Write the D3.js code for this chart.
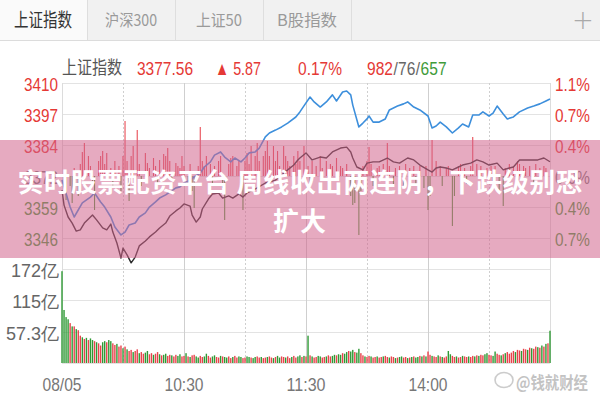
<!DOCTYPE html>
<html><head><meta charset="utf-8">
<script src="https://cdn.jsdelivr.net/npm/d3@7"></script>
<style>
html,body{margin:0;padding:0;background:#fff;}
svg{display:block;}
.num{font-family:"Liberation Sans Narrow","Liberation Sans",Arial,sans-serif;}
.cjk{font-family:"Noto Sans CJK SC","Noto Sans",sans-serif;}
</style></head><body>
<svg id="c" width="600" height="400"></svg>
<script>
// ---------- data ----------
const tabs = ["上证指数","沪深300","上证50","B股指数"];
const indexName = "上证指数";
const lastPrice = "3377.56", changeText = "▲ 5.87", changePct = "0.17%";
const advDeclParts = ["982","/","76","/","657"];
const preClose = 3371.69;
const priceStep = 12.77;
const priceTickLabels = ["3410","3397","3384","3372","3359","3346"];
const pctTickLabels = ["1.1%","0.7%","0.4%","0.0%","0.4%","0.7%"];
const volTickValues = [172, 115, 57.3];
const volTickLabels = ["172亿","115亿","57.3亿"];
const timeTickMinutes = [0, 60, 120, 180];
const timeTickLabels = ["08/05","10:30","11:30","14:00"];
const bannerLines = ["实时股票配资平台 周线收出两连阴，下跌级别恐","扩大"];
const watermark = "@钱就财经";

// weighted index (dark line)
const priceMinutes = [0,1,3,5,7,9,11,13,15,17,20,22,24,25,27,29,30,32,34,36,38,41,43,46,48,51,53,56,58,60,63,64,66,68,69,72,74,77,79,82,84,87,89,91,94,96,100,102,105,108,111,114,116,117,120,123,127,130,133,137,140,142,143,145,148,150,153,156,160,163,166,170,173,176,180,182,184,186,189,192,195,197,201,204,207,210,214,217,220,222,225,230,234,237,240];
const priceValues = [3365.9,3359.7,3354.8,3352.3,3349.0,3349.5,3352.3,3354.0,3355.6,3353.6,
3350.3,3349.5,3351.9,3348.6,3344.1,3337.9,3342.0,3339.2,3335.9,3338.3,
3342.9,3344.9,3346.6,3348.6,3350.3,3352.3,3355.2,3357.3,3358.5,3360.2,
3359.3,3355.6,3352.7,3354.8,3358.1,3362.2,3364.3,3364.7,3362.6,3363.5,
3362.6,3364.3,3363.0,3364.7,3365.9,3366.8,3368.8,3369.2,3370.0,3372.1,
3374.2,3376.2,3378.3,3379.1,3381.2,3378.3,3379.5,3379.1,3381.6,3383.2,
3383.6,3381.6,3379.1,3375.4,3374.2,3377.0,3377.5,3377.5,3379.1,3377.5,
3377.0,3379.1,3378.3,3376.2,3374.2,3373.3,3375.0,3375.4,3375.0,3374.2,
3375.4,3376.2,3377.0,3378.3,3377.5,3376.2,3377.0,3374.2,3375.0,3375.4,
3378.3,3378.3,3378.3,3379.1,3377.56];

// unweighted index (blue line), in index points on the same scale
const blueMinutes = [0,4,6,10,14,16,19,21,24,26,29,31,33,36,38,41,43,46,48,51,53,56,58,60,63,65,68,70,73,75,78,80,83,85,88,90,92,95,97,100,102,105,108,111,115,117,120,122,124,127,130,133,135,138,140,142,143,146,148,150,151,153,156,159,161,165,168,170,173,176,180,182,184,186,189,192,195,197,200,202,205,207,210,212,214,217,219,222,225,229,232,235,238,240];
const blueValues = [3370.0,3358.9,3354.8,3360.6,3363.0,3364.7,3361.0,3358.9,3354.8,3350.7,
3347.4,3348.6,3351.5,3352.3,3354.8,3356.5,3358.9,3361.0,3362.6,3363.9,
3365.1,3366.8,3367.2,3368.8,3370.0,3371.3,3372.9,3375.4,3377.5,3380.3,
3381.6,3379.5,3377.5,3379.1,3377.5,3379.1,3381.2,3381.6,3383.2,3387.8,
3389.4,3390.6,3391.9,3393.5,3396.0,3398.1,3401.8,3404.2,3402.2,3400.1,
3402.2,3405.1,3402.6,3406.3,3406.7,3405.1,3400.9,3391.9,3393.5,3395.2,
3396.4,3393.9,3393.9,3395.2,3398.9,3400.5,3401.4,3402.2,3400.1,3398.9,
3396.4,3391.5,3392.3,3393.9,3391.9,3389.4,3391.5,3393.1,3391.9,3396.8,
3396.8,3398.1,3396.4,3397.6,3400.5,3397.2,3395.2,3396.0,3398.1,3399.7,
3400.5,3401.4,3402.6,3403.4];

// buy/sell strength bars (arbitrary units, + red up, - green down)
const breadthMinutes = [1,2,4,5,6,8,9,10,11,13,14,15,16,18,19,20,21,22,24,25,26,28,29,30,31,32,33,34,35,37,38,39,41,42,43,45,46,47,48,50,51,52,53,54,56,57,58,59,60,62,63,64,65,67,68,69,70,71,73,74,75,77,78,79,80,82,83,84,86,87,88,89,90,91,92,93,95,96,97,99,100,101,102,104,105,106,107,109,110,111,112,114,115,116,117,119,
121,122,123,125,127,128,130,132,133,135,137,138,140,142,143,144,146,147,148,150,151,152,153,155,156,158,160,161,163,164,166,168,169,171,173,174,176,178,179,180,181,182,184,186,187,189,190,192,193,195,196,198,199,201,202,204,206,207,209,211,212,213,215,217,218,220,222,224,225,227,228,230,232,233,235,237,238];
const breadthValues = [-10,-24,-10,-27,8,-20,12,24,33,20,10,-8,-34,15,20,25,12,23,8,-10,15,10,-15,20,55,15,-25,20,30,46,12,-10,23,13,8,18,10,-8,16,22,20,28,15,-5,13,10,8,20,10,-8,12,-15,-32,10,49,15,10,20,12,-8,10,15,20,-12,-44,12,18,20,10,15,-10,-34,15,23,12,30,20,33,15,20,25,35,20,30,15,25,10,30,20,15,10,20,12,25,15,30,
10,-10,15,10,20,8,15,12,10,18,10,8,12,-20,-29,-27,-59,-15,10,15,29,12,-10,8,10,12,33,10,-8,8,10,-10,12,8,10,-8,10,-12,10,-34,-20,36,15,10,-10,8,10,-50,-20,10,12,8,-8,10,39,12,10,-10,8,10,-8,10,-15,-30,8,12,10,15,12,10,8,10,-8,12,8,10,8];

// volume per minute (亿), and direction r=up g=down
const volumes = [168,97,84,80,73,67,67,62,60,50,47,44,46,42,45,42,40,38,36,32,
38,40,38,42,40,36,33,35,30,32,27,30,25,22,24,20,22,25,18,20,
17,19,22,16,18,15,17,20,16,14,15,17,13,15,14,12,15,13,16,12,
13,18,12,11,14,15,12,10,13,11,12,17,13,10,12,14,11,10,13,12,
11,10,12,9,11,13,10,12,11,9,10,12,11,10,9,11,12,10,11,9,
10,11,12,10,9,11,13,10,12,11,10,12,9,11,13,10,12,14,11,13,12,
50,14,12,10,11,13,12,10,11,12,14,12,13,15,14,16,15,18,17,20,
22,21,24,20,19,26,18,14,12,11,13,12,10,11,12,10,11,12,13,11,
10,12,11,9,10,11,12,10,11,9,10,11,12,10,11,13,12,14,12,21,
15,13,12,11,14,12,11,10,12,22,16,13,11,12,10,11,13,12,11,12,
11,13,12,14,13,15,14,16,18,15,14,13,21,17,15,14,16,18,20,17,
19,22,20,24,23,22,26,25,24,28,27,26,30,29,28,32,30,35,36,59];
const volumeDirs = ("ggggrgrgrrgrgrggrgrr"+"ggrggrrgrrgrgrrgrrgr"+"rggrrgrrgrggrrgrrggr"+"rgrgrrggrrggrrggrrgr"+"ggrrgrrggrrggrggrrgr"+
"rgrrgrggrrgrrgrrggrgr"+"grgrrggrrgrrggrggrgg"+"rggrggrrgrrgrrgrrgrr"+"grrgrggrrgrgrggrgrgr"+"rgrrgrgrrggrrgrrgrrg"+"rrgrgrrggrrggrrgrgrr"+"rrgrrgrrgrgrrgrgrgrg").split("");

// ---------- drawing ----------
const RED = "#e53935", GREEN = "#3f9b3a", GRAY = "#777";
const svg = d3.select("#c");
const L = 62, R = 550, PT = 83, PB = 269, VT = 269, VB = 363;

const x = d3.scaleLinear().domain([0, 240]).range([L, R]);
const y = d3.scaleLinear().domain([preClose - 3*priceStep, preClose + 3*priceStep]).range([PB, PT]);
const yb = d3.scaleLinear().domain([-93, 93]).range([PB, PT]);
const yv = d3.scaleLinear().domain([0, 172]).range([VB, VT]);

// tab bar
const tabW = 88;
svg.append("rect").attr("x",0).attr("y",0).attr("width",600).attr("height",40).attr("fill","#f1f1f1");
svg.append("rect").attr("x",0).attr("y",0).attr("width",tabW-1).attr("height",40).attr("fill","#fafafa");
svg.append("line").attr("x1",0).attr("x2",600).attr("y1",40.5).attr("y2",40.5).attr("stroke","#dcdcdc");
tabs.forEach((t,i)=>{
  svg.append("line").attr("x1",tabW*(i+1)-0.5).attr("x2",tabW*(i+1)-0.5).attr("y1",0).attr("y2",40).attr("stroke","#dedede");
  svg.append("text").attr("class","cjk").attr("x",tabW*i+tabW/2-1).attr("y",20).attr("dy","0.35em")
    .attr("text-anchor","middle").attr("font-size", i===0?19:16).attr("fill", i===0?"#333":"#9a9a9a")
    .attr("textLength", [58,52,46,60][i]).attr("lengthAdjust","spacingAndGlyphs").text(t);
});
svg.append("text").attr("x",583).attr("y",20).attr("dy","0.35em").attr("text-anchor","middle")
  .attr("font-size",26).attr("font-weight",300).attr("fill","#aaa").attr("font-family","DejaVu Sans").text("+");

// header row
const HY = 68;
function headText(str, x0, w, col, cls, fs){
  svg.append("text").attr("class",cls||"num").attr("x",x0).attr("y",HY).attr("dy","0.35em").attr("font-size",fs||19)
    .attr("fill",col).attr("textLength",w).attr("lengthAdjust","spacingAndGlyphs").text(str);
}
headText(indexName, 62, 60, "#555", "cjk", 18);
headText(lastPrice, 137, 56, RED);
headText(changeText, 215, 46, RED);
headText(changePct, 298, 44, RED);
// advancers / unchanged / decliners: placed one after another, horizontally condensed group
const adColors = [RED,"#666","#666","#666",GREEN];
const adG = svg.append("g");
let adCursor = 0;
advDeclParts.forEach((p,i)=>{
  const t = adG.append("text").attr("class","num").attr("x",adCursor).attr("y",0).attr("dy","0.35em")
    .attr("font-size",19).attr("fill",adColors[i]).text(p);
  adCursor += t.node().getComputedTextLength() + 0.5;
});
adG.attr("transform", `translate(367,${HY}) scale(${80/adCursor},1)`);

// grid: price panel
const levels = d3.range(6, -1, -1).map(k => preClose + (k-3)*priceStep);
svg.append("g").selectAll("line").data(levels).join("line")
  .attr("x1",L).attr("x2",R).attr("y1",d=>Math.round(y(d))+0.5).attr("y2",d=>Math.round(y(d))+0.5)
  .attr("stroke","#e3e3e3");
// grid: volume panel
svg.append("g").selectAll("line").data([0].concat(volTickValues)).join("line")
  .attr("x1",L).attr("x2",R).attr("y1",d=>Math.round(yv(d))+0.5).attr("y2",d=>Math.round(yv(d))+0.5)
  .attr("stroke","#e3e3e3");
// verticals
const vMins = d3.range(0, 241, 30);
svg.append("g").selectAll("line").data(vMins).join("line")
  .attr("x1",d=>Math.round(x(d))+0.5).attr("x2",d=>Math.round(x(d))+0.5)
  .attr("y1",PT).attr("y2",VB)
  .attr("stroke", d => (d===0||d===240) ? "#dcdcdc" : "#cfcfcf")
  .attr("stroke-dasharray", d => (d===0||d===240||d===60||d===120||d===180) ? null : "2,2");

// breadth bars
const bIdx = d3.range(Math.min(breadthMinutes.length, breadthValues.length));
svg.append("g").selectAll("line").data(bIdx).join("line")
  .attr("x1",i=>x(breadthMinutes[i])).attr("x2",i=>x(breadthMinutes[i]))
  .attr("y1",yb(0)).attr("y2",i=>yb(breadthValues[i]))
  .attr("stroke",i=>breadthValues[i]>0?"#e84c55":"#4a9a3e").attr("stroke-width",1.1);

// lines
const line = d3.line().x(d=>x(d[0])).y(d=>y(d[1]));
const bluePts = blueMinutes.map((m,i)=>[m, blueValues[i]]);
const pricePts = priceMinutes.map((m,i)=>[m, priceValues[i]]);
svg.append("path").attr("d", line(bluePts)).attr("fill","none").attr("stroke","#3d8fdc").attr("stroke-width",1.6).attr("stroke-linejoin","round");
svg.append("path").attr("d", line(pricePts)).attr("fill","none").attr("stroke","#2a2a2a").attr("stroke-width",1.4).attr("stroke-linejoin","round");

// volume bars
const vIdx = d3.range(Math.min(volumes.length, volumeDirs.length));
svg.append("g").selectAll("rect").data(vIdx).join("rect")
  .attr("x",i=>x(i)-0.7).attr("width",1.4)
  .attr("y",i=>yv(volumes[i])).attr("height",i=>yv(0)-yv(volumes[i]))
  .attr("fill",i=>volumeDirs[i]==="r"?"#e8434c":"#2f9a35");

// price axis labels
levels.slice(0,6).forEach((lv,k)=>{
  const col = k<3 ? RED : (k===3 ? GRAY : GREEN);
  svg.append("text").attr("class","num").attr("x",58).attr("y",y(lv)+1).attr("dy","0.35em")
    .attr("text-anchor","end").attr("font-size",19).attr("fill",col)
    .attr("textLength",34).attr("lengthAdjust","spacingAndGlyphs").text(priceTickLabels[k]);
  svg.append("text").attr("class","num").attr("x",555).attr("y",y(lv)+1).attr("dy","0.35em")
    .attr("font-size",19).attr("fill",col)
    .attr("textLength",35).attr("lengthAdjust","spacingAndGlyphs").text(pctTickLabels[k]);
});
// volume labels
volTickValues.forEach((v,i)=>{
  svg.append("text").attr("class","num").attr("x",59).attr("y",yv(v)+2).attr("dy","0.35em")
    .attr("text-anchor","end").attr("font-size",18).attr("fill","#666").text(volTickLabels[i]);
});
// time labels
timeTickMinutes.forEach((m,i)=>{
  svg.append("text").attr("class","num").attr("x",x(m)).attr("y",384).attr("dy","0.35em")
    .attr("text-anchor","middle").attr("font-size",19).attr("fill","#777")
    .attr("textLength",39).attr("lengthAdjust","spacingAndGlyphs").text(timeTickLabels[i]);
});
// watermark
const wm = svg.append("g").attr("opacity",0.5);
wm.append("ellipse").attr("cx",504).attr("cy",380).attr("rx",9).attr("ry",7.5).attr("fill","none").attr("stroke","#999").attr("stroke-width",1.6);
wm.append("text").attr("class","cjk").attr("x",516).attr("y",383).attr("dy","0.35em").attr("font-size",17)
  .attr("font-weight",700).attr("fill","#888").attr("textLength",72).attr("lengthAdjust","spacingAndGlyphs").text(watermark);

// banner overlay
svg.append("rect").attr("x",0).attr("y",140).attr("width",600).attr("height",118).attr("fill","rgba(210,100,140,0.55)");
bannerLines.forEach((t,i)=>{
  svg.append("text").attr("class","cjk").attr("x",300).attr("y",[183,222][i]).attr("dy","0.35em")
    .attr("text-anchor","middle").attr("font-size",26).attr("font-weight",700).attr("fill","#fff")
    .attr("letter-spacing", i===0 ? 0.6 : 1)
    .text(t);
});
</script>
</body></html>
